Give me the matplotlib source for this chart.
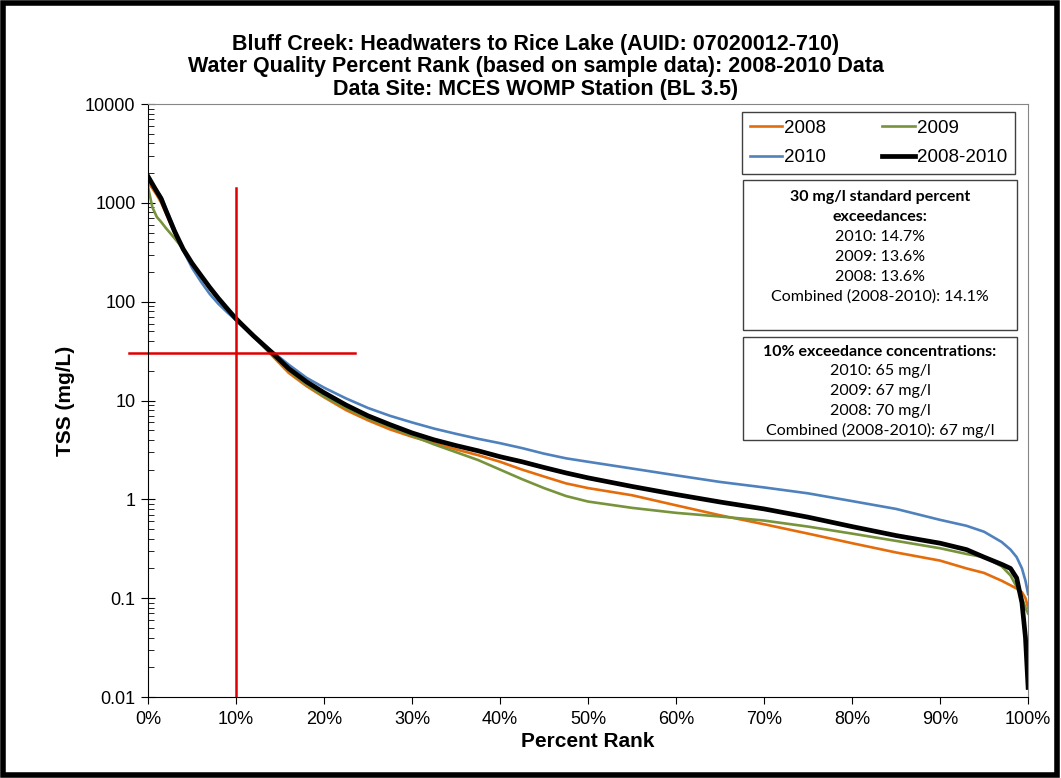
import matplotlib
matplotlib.use("Agg")
import matplotlib.pyplot as plt
from matplotlib.patches import Rectangle
from matplotlib.ticker import FixedLocator, LogLocator, NullFormatter

plt.rcParams['font.family'] = ['Liberation Sans', 'DejaVu Sans']

# percent rank positions (%)
rank = [0, 0.5, 1, 1.5, 2, 3, 4, 5, 6, 7, 8, 9, 10, 12, 14, 16, 18, 20, 22.5, 25,
        27.5, 30, 32.5, 35, 37.5, 40, 42.5, 45, 47.5, 50, 55, 60, 65, 70, 75, 80,
        85, 90, 93, 95, 97, 98, 98.7, 99.3, 99.7, 100]

tss_2008 = [1600, 1400, 1200, 1000, 800, 500, 340, 240, 180, 135, 105, 84, 70, 45, 29,
            19, 14, 10.8, 8, 6.3, 5.1, 4.3, 3.7, 3.2, 2.8, 2.4, 2.0, 1.7, 1.45, 1.3,
            1.1, 0.87, 0.69, 0.56, 0.45, 0.36, 0.29, 0.24, 0.2, 0.18, 0.15, 0.135,
            0.125, 0.115, 0.1, 0.08]
tss_2009 = [1450, 900, 720, 640, 560, 440, 340, 240, 185, 140, 108, 85, 67, 44, 30,
            20, 14.5, 11, 8.4, 6.6, 5.4, 4.4, 3.6, 3.0, 2.5, 2.0, 1.6, 1.3, 1.08, 0.95,
            0.82, 0.73, 0.67, 0.61, 0.53, 0.45, 0.38, 0.32, 0.28, 0.26, 0.21, 0.17,
            0.13, 0.1, 0.08, 0.07]
tss_2010 = [1750, 1550, 1350, 1150, 900, 550, 330, 220, 160, 120, 95, 78, 65, 45, 32,
            23, 17, 13.5, 10.5, 8.4, 7, 6, 5.2, 4.6, 4.1, 3.7, 3.3, 2.9, 2.6, 2.4,
            2.05, 1.75, 1.5, 1.32, 1.15, 0.96, 0.8, 0.62, 0.54, 0.47, 0.37, 0.31,
            0.26, 0.2, 0.15, 0.11]
tss_all = [1850, 1550, 1300, 1100, 850, 520, 340, 245, 185, 140, 108, 85, 67, 45, 31,
           21, 15.5, 12, 9, 7, 5.7, 4.7, 4.0, 3.5, 3.1, 2.7, 2.4, 2.1, 1.85, 1.65,
           1.35, 1.12, 0.94, 0.8, 0.66, 0.53, 0.43, 0.36, 0.31, 0.26, 0.22, 0.2,
           0.16, 0.09, 0.04, 0.0125]

exceed_30 = ["2010: 14.7%", "2009: 13.6%", "2008: 13.6%", "Combined (2008-2010): 14.1%"]
conc_10 = ["2010: 65 mg/l", "2009: 67 mg/l", "2008: 70 mg/l", "Combined (2008-2010): 67 mg/l"]

fig = plt.figure(figsize=(10.61, 7.78), dpi=100)
ax = fig.add_axes([0.1395, 0.1041, 0.8295, 0.7622])

l08, = ax.plot(rank, tss_2008, color='#E46C0A', lw=1.9, label='2008')
l09, = ax.plot(rank, tss_2009, color='#77933C', lw=1.9, label='2009')
l10, = ax.plot(rank, tss_2010, color='#4F81BD', lw=1.9, label='2010')
lall, = ax.plot(rank, tss_all, color='black', lw=3.4, label='2008-2010')

# 30 mg/l standard and 10% exceedance markers
ax.plot([-2.2, 23.5], [30, 30], color='#E00000', lw=1.8, clip_on=False)
ax.plot([10, 10], [0.01, 1400], color='#E00000', lw=1.8)

ax.set_yscale('log')
ax.set_ylim(0.01, 10000)
ax.set_xlim(0, 100)
ax.xaxis.set_major_locator(FixedLocator(range(0, 101, 10)))
ax.set_xticklabels([f"{v}%" for v in range(0, 101, 10)])
ax.set_yticks([0.01, 0.1, 1, 10, 100, 1000, 10000])
ax.set_yticklabels(['0.01', '0.1', '1', '10', '100', '1000', '10000'])
ax.yaxis.set_minor_locator(LogLocator(base=10, subs=range(2, 10), numticks=20))
ax.yaxis.set_minor_formatter(NullFormatter())
ax.tick_params(axis='both', which='major', labelsize=13, color='black')
ax.tick_params(axis='y', which='major', direction='inout', length=10, pad=4)
ax.tick_params(axis='y', which='minor', direction='in', length=4)
ax.tick_params(axis='x', which='major', direction='out', length=5, pad=5)

for side in ['top', 'right']:
    ax.spines[side].set_color('#868686')
for side in ['left', 'bottom']:
    ax.spines[side].set_color('black')

ax.set_xlabel('Percent Rank', fontsize=15, fontweight='bold', labelpad=3)
ax.set_ylabel('TSS (mg/L)', fontsize=15, fontweight='bold', labelpad=7)

fig.text(0.505, 0.943, 'Bluff Creek: Headwaters to Rice Lake (AUID: 07020012-710)',
         ha='center', va='center', fontsize=15.5, fontweight='bold')
fig.text(0.505, 0.914, 'Water Quality Percent Rank (based on sample data): 2008-2010 Data',
         ha='center', va='center', fontsize=15.5, fontweight='bold')
fig.text(0.505, 0.885, 'Data Site: MCES WOMP Station (BL 3.5)',
         ha='center', va='center', fontsize=15.5, fontweight='bold')

leg = ax.legend(handles=[l08, l10, l09, lall], ncol=2, loc='upper right',
                bbox_to_anchor=(0.985, 0.986), fontsize=13.5, handlelength=1.75,
                handletextpad=0.1, columnspacing=3.0, fancybox=False,
                framealpha=1, borderpad=0.4, labelspacing=0.65, borderaxespad=0)
leg.get_frame().set_edgecolor('#404040')
leg.get_frame().set_linewidth(1.0)

box_font = ['Lato', 'DejaVu Sans']
# first info box
fig.patches.append(Rectangle((743 / 1061, 1 - 330 / 778), 274 / 1061, 150 / 778,
                             transform=fig.transFigure, fill=True, facecolor='white',
                             edgecolor='#404040', lw=1.0))
fig.text(880 / 1061, 1 - 197 / 778, '30 mg/l standard percent', ha='center', va='center',
         fontsize=11.5, fontweight='bold', family=box_font)
fig.text(880 / 1061, 1 - 217 / 778, 'exceedances:', ha='center', va='center',
         fontsize=11.5, fontweight='bold', family=box_font)
for i, s in enumerate(exceed_30):
    fig.text(880 / 1061, 1 - (237 + 20 * i) / 778, s, ha='center', va='center',
             fontsize=11.5, family=box_font)

# second info box
fig.patches.append(Rectangle((743 / 1061, 1 - 440 / 778), 274 / 1061, 103 / 778,
                             transform=fig.transFigure, fill=True, facecolor='white',
                             edgecolor='#404040', lw=1.0))
fig.text(880 / 1061, 1 - 352 / 778, '10% exceedance concentrations:', ha='center',
         va='center', fontsize=11.5, fontweight='bold', family=box_font)
for i, s in enumerate(conc_10):
    fig.text(880 / 1061, 1 - (371.5 + 19.5 * i) / 778, s, ha='center', va='center',
             fontsize=11.5, family=box_font)

# outer frame
fig.patches.append(Rectangle((0.003, 0.004), 0.993, 0.992, transform=fig.transFigure,
                             fill=False, edgecolor='black', lw=4))

fig.savefig('out.png', dpi=100)
